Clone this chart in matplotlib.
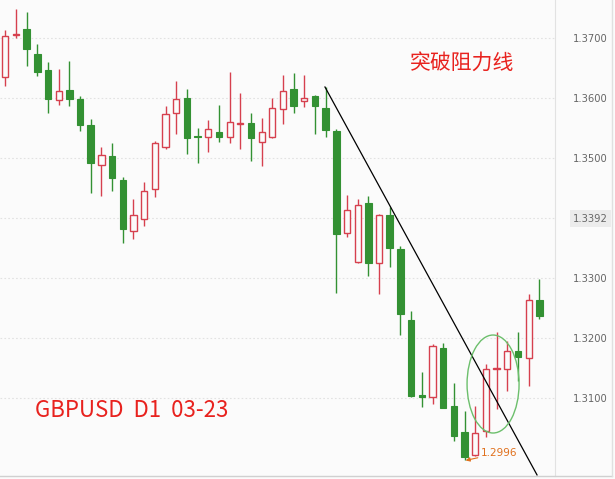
import numpy as np
import matplotlib
matplotlib.use("Agg")
import matplotlib.pyplot as plt
from matplotlib.patches import Ellipse

plt.rcParams['font.family'] = ['Noto Sans CJK SC', 'DejaVu Sans']

# daily GBPUSD candles (open, high, low, close)
opens = [1.3635, 1.3705, 1.3715, 1.3673, 1.3647, 1.3597, 1.3613, 1.3598, 1.3555, 1.3488,
         1.3503, 1.3463, 1.3378, 1.3398, 1.3448, 1.3518, 1.3575, 1.3600, 1.3537, 1.3535,
         1.3543, 1.3535, 1.3557, 1.3558, 1.3527, 1.3535, 1.3582, 1.3615, 1.3595, 1.3603,
         1.3583, 1.3545, 1.3375, 1.3327, 1.3425, 1.3325, 1.3405, 1.3348, 1.3230, 1.3105,
         1.3102, 1.3183, 1.3087, 1.3043, 1.3005, 1.3045, 1.3148, 1.3148, 1.3178, 1.3167,
         1.3263]
highs = [1.3713, 1.3748, 1.3743, 1.3690, 1.3660, 1.3648, 1.3662, 1.3603, 1.3565, 1.3518,
         1.3525, 1.3468, 1.3432, 1.3460, 1.3528, 1.3587, 1.3628, 1.3615, 1.3550, 1.3563,
         1.3588, 1.3643, 1.3608, 1.3575, 1.3567, 1.3600, 1.3638, 1.3642, 1.3638, 1.3605,
         1.3618, 1.3548, 1.3438, 1.3432, 1.3437, 1.3407, 1.3418, 1.3353, 1.3245, 1.3143,
         1.3190, 1.3192, 1.3125, 1.3078, 1.3087, 1.3157, 1.3210, 1.3195, 1.3210, 1.3273,
         1.3298]
lows = [1.3620, 1.3700, 1.3653, 1.3637, 1.3575, 1.3588, 1.3587, 1.3545, 1.3442, 1.3437,
        1.3445, 1.3358, 1.3365, 1.3387, 1.3435, 1.3515, 1.3540, 1.3507, 1.3492, 1.3510,
        1.3527, 1.3525, 1.3515, 1.3495, 1.3487, 1.3533, 1.3557, 1.3575, 1.3585, 1.3540,
        1.3535, 1.3275, 1.3368, 1.3325, 1.3303, 1.3273, 1.3318, 1.3205, 1.3102, 1.3085,
        1.3090, 1.3083, 1.3028, 1.2996, 1.3003, 1.3035, 1.3082, 1.3112, 1.3128, 1.3120,
        1.3232]
closes = [1.3703, 1.3707, 1.3682, 1.3643, 1.3598, 1.3612, 1.3598, 1.3555, 1.3492, 1.3505,
          1.3467, 1.3382, 1.3405, 1.3445, 1.3525, 1.3573, 1.3598, 1.3533, 1.3535, 1.3548,
          1.3535, 1.3560, 1.3558, 1.3533, 1.3543, 1.3583, 1.3612, 1.3587, 1.3600, 1.3587,
          1.3547, 1.3373, 1.3413, 1.3422, 1.3325, 1.3405, 1.3350, 1.3240, 1.3103, 1.3102,
          1.3187, 1.3083, 1.3037, 1.3002, 1.3042, 1.3148, 1.3150, 1.3178, 1.3168, 1.3263,
          1.3237]

# resistance line drawn on the chart
trend_x = [29.93, 49.79]
trend_y = [1.36183, 1.29717]

price_ticks = [1.37, 1.36, 1.35, 1.34, 1.33, 1.32, 1.31]
price_labels = ["1.3700", "1.3600", "1.3500", "1.3392", "1.3300", "1.3200", "1.3100"]

low_label = "1.2996"

red = "#d6404e"
green = "#339133"
bg = "#fbfbfb"

fig = plt.figure(figsize=(6.15, 4.79), dpi=100, facecolor=bg)
ax = fig.add_axes([0, 3/479, 555/615, 476/479], facecolor=bg)

x = np.arange(len(opens))
o = np.array(opens); h = np.array(highs); l = np.array(lows); c = np.array(closes)
up = c >= o
cols = np.where(up, red, green)

ax.vlines(x, l, h, colors=cols, lw=1.0, zorder=2)
body_lo = np.minimum(o, c)
body_h = np.maximum(np.abs(c - o), 0.00005)
ax.bar(x[up], body_h[up], bottom=body_lo[up], width=0.58, facecolor=bg,
       edgecolor=red, lw=1.0, zorder=3)
ax.bar(x[~up], body_h[~up], bottom=body_lo[~up], width=0.62, facecolor=green,
       edgecolor=green, lw=0.8, zorder=3)

ax.plot(trend_x, trend_y, color="black", lw=0.9, zorder=4)
ax.add_patch(Ellipse((45.67, 1.31233), 4.87, 0.01633, fill=False,
                     edgecolor="#6cbf6c", lw=1.0, zorder=5))

# low marker
imin = int(np.argmin(l))
ax.annotate(low_label, xy=(x[imin] + 0.1, l[imin]), xytext=(x[imin] + 1.5, l[imin] + 0.0012),
            color="#e0701c", fontsize=7.5, family="DejaVu Sans", va="center",
            arrowprops=dict(arrowstyle="-|>", color="#e0701c", lw=0.8, mutation_scale=6,
                            shrinkA=0, shrinkB=0))

ax.set_xlim(-0.5, 51.47)
ax.set_ylim(1.2970, 1.37633)
ax.set_xticks([])
ax.yaxis.tick_right()
ax.set_yticks(price_ticks)
ax.set_yticklabels(price_labels, family="DejaVu Sans", fontsize=7.2, color="#666666")
ax.tick_params(axis="y", length=0, pad=13)
for t in ax.get_yticklabels():
    if t.get_text() == "1.3392":
        t.set_bbox(dict(facecolor="#ececec", edgecolor="none", pad=2.5))
ax.grid(axis="y", color="#e2e2e2", ls=(0, (1.5, 2)), lw=0.8)
for s in ["left", "top", "bottom"]:
    ax.spines[s].set_visible(False)
ax.spines["right"].set_color("#e2e2e2")

# outer frame of the price panel
fig.add_artist(plt.Line2D([0, 612/615], [3/479, 3/479], color="#d0d0d0", lw=1.0))
fig.add_artist(plt.Line2D([612/615, 612/615], [3/479, 1], color="#e0e0e0", lw=1.0))

ax.text(0.738, 0.868, "突破阻力线", transform=ax.transAxes, color="#e8221e",
        fontsize=15, va="center", ha="left")
ax.text(0.063, 0.138, "GBPUSD  D1  03-23", transform=ax.transAxes, color="#e8221e",
        fontsize=16, va="center", ha="left")

fig.savefig("out.png", dpi=100, facecolor=bg)
